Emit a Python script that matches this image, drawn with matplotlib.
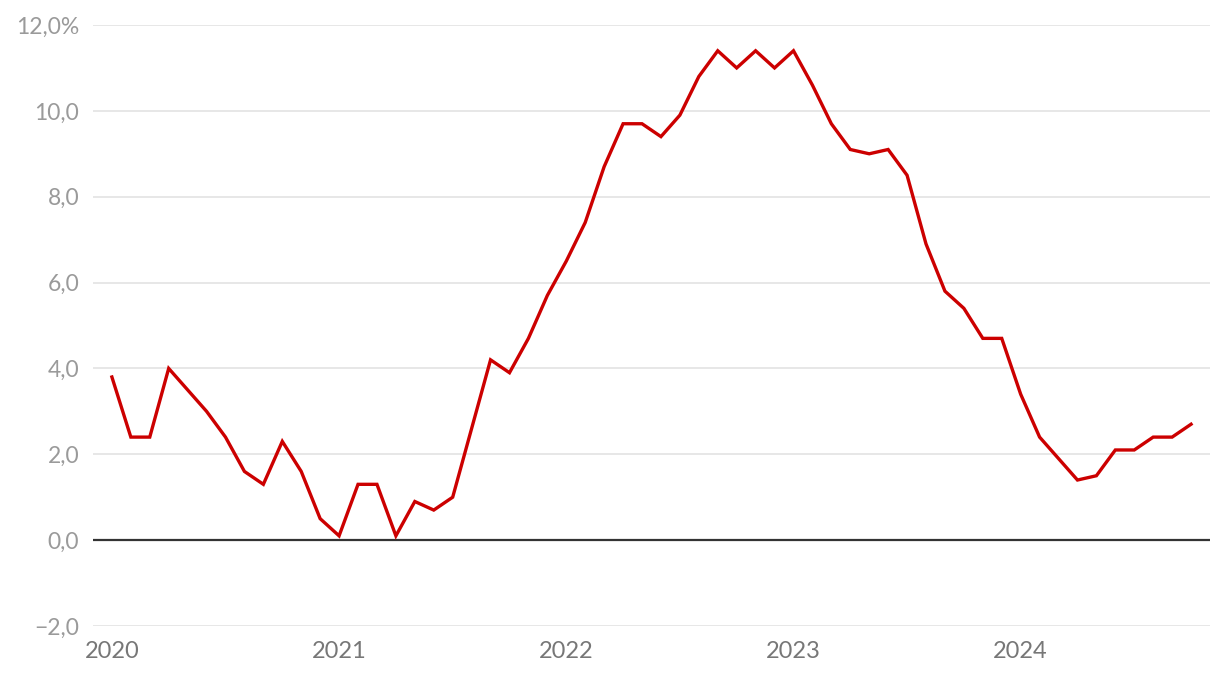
import matplotlib
matplotlib.use("Agg")
import matplotlib.pyplot as plt
from matplotlib.ticker import FixedLocator, FuncFormatter

plt.rcParams["font.family"] = ["Lato", "DejaVu Sans"]

# Monthly values, Jan 2020 - Oct 2024 (%)
valores = [
    3.8, 2.4, 2.4, 4.0, 3.5, 3.0, 2.4, 1.6, 1.3, 2.3, 1.6, 0.5,
    0.1, 1.3, 1.3, 0.1, 0.9, 0.7, 1.0, 2.6, 4.2, 3.9, 4.7, 5.7,
    6.5, 7.4, 8.7, 9.7, 9.7, 9.4, 9.9, 10.8, 11.4, 11.0, 11.4, 11.0,
    11.4, 10.6, 9.7, 9.1, 9.0, 9.1, 8.5, 6.9, 5.8, 5.4, 4.7, 4.7,
    3.4, 2.4, 1.9, 1.4, 1.5, 2.1, 2.1, 2.4, 2.4, 2.7,
]
meses = list(range(len(valores)))
anios = ["2020", "2021", "2022", "2023", "2024"]
pos_anios = [0, 12, 24, 36, 48]
y_ticks = [-2, 0, 2, 4, 6, 8, 10, 12]

fig = plt.figure(figsize=(12.2, 6.76), dpi=100)
ax = fig.add_axes([0.0762, 0.074, 0.9156, 0.889])

for yv in y_ticks:
    if yv == 0:
        continue
    ax.axhline(yv, color="#e5e5e5", linewidth=1.3, zorder=1)
ax.axhline(0, color="#333333", linewidth=1.6, zorder=2)

ax.plot(meses, valores, color="#cc0000", linewidth=2.4, zorder=3,
        solid_joinstyle="miter")

ax.set_xlim(-1, 58)
ax.set_ylim(-2, 12)
ax.xaxis.set_major_locator(FixedLocator(pos_anios))
ax.set_xticklabels(anios)
ax.yaxis.set_major_locator(FixedLocator(y_ticks))


def fmt_y(v, pos):
    s = f"{abs(v):.1f}".replace(".", ",")
    if v < 0:
        s = "\u2212" + s
    if v == 12:
        s += "%"
    return s


ax.yaxis.set_major_formatter(FuncFormatter(fmt_y))

for sp in ax.spines.values():
    sp.set_visible(False)
ax.tick_params(axis="both", length=0)
ax.tick_params(axis="y", pad=10, labelsize=16.5, labelcolor="#9a9a9a")
ax.tick_params(axis="x", pad=11, labelsize=17, labelcolor="#777777")

fig.savefig("out.png", dpi=100)
